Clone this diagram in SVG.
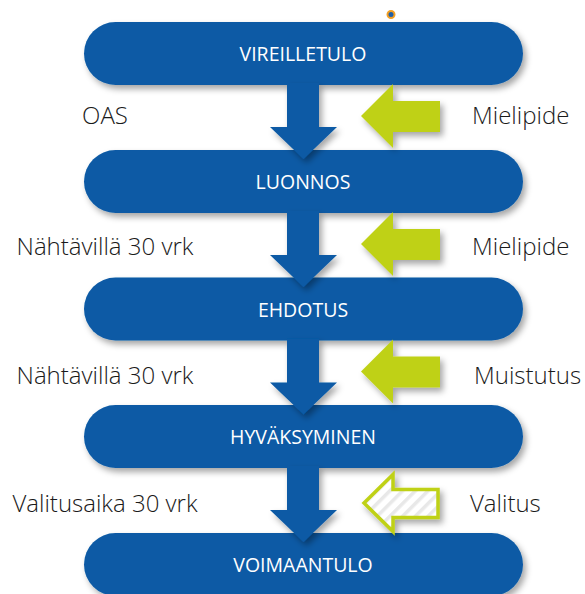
<svg xmlns="http://www.w3.org/2000/svg" width="585" height="594" viewBox="0 0 585 594">
<defs>
<filter id="sh" x="-10%" y="-20%" width="130%" height="150%">
<feDropShadow dx="3" dy="4" stdDeviation="3" flood-color="#000" flood-opacity="0.35"/>
</filter>
<pattern id="stripes" patternUnits="userSpaceOnUse" width="9" height="9" patternTransform="rotate(45)">
<rect width="9" height="9" fill="#ffffff"/>
<rect width="3.5" height="9" fill="#e8e8e8"/>
</pattern>
</defs>
<style>
.box{fill:#0A5AA5;filter:url(#sh)}
.bt{font-family:"Open Sans","Noto Sans",sans-serif;font-size:19.5px;fill:#ffffff;text-anchor:middle}
.lbl{font-family:"Open Sans","Noto Sans",sans-serif;font-size:24px;font-weight:300;fill:#1a1a1a}
.lc{text-anchor:middle}
.flow{fill:#0A5AA5;filter:url(#sh)}
.inp{fill:#BFD116;filter:url(#sh)}
.inpo{fill:url(#stripes);stroke:#BFD116;stroke-width:3.5;filter:url(#sh)}
</style>
<rect width="585" height="594" fill="#ffffff"/>

<g id="n1"><rect class="box" x="84" y="22" width="439" height="63" rx="31.5"/><text class="bt" x="303" y="61">VIREILLETULO</text></g>
<g id="n2"><rect class="box" x="84" y="150" width="439" height="63" rx="31.5"/><text class="bt" x="303" y="189">LUONNOS</text></g>
<g id="n3"><rect class="box" x="84" y="277.5" width="439" height="63" rx="31.5"/><text class="bt" x="303" y="316.5">EHDOTUS</text></g>
<g id="n4"><rect class="box" x="84" y="405" width="439" height="63" rx="31.5"/><text class="bt" x="303" y="444">HYVÄKSYMINEN</text></g>
<g id="n5"><rect class="box" x="84" y="533" width="439" height="63" rx="31.5"/><text class="bt" x="303" y="572">VOIMAANTULO</text></g>

<g id="connectors">
<path class="flow" d="M287,83 L319,83 L319,127 L337,127 L303.5,159 L270,127 L287,127 Z"/>
<path class="flow" d="M287,211 L319,211 L319,255 L337,255 L303.5,287 L270,255 L287,255 Z"/>
<path class="flow" d="M287,338.5 L319,338.5 L319,382.5 L337,382.5 L303.5,414.5 L270,382.5 L287,382.5 Z"/>
<path class="flow" d="M287,466 L319,466 L319,510 L337,510 L303.5,542 L270,510 L287,510 Z"/>
</g>

<g id="inputs">
<path class="inp" d="M361,116 L393,84 L393,101 L440,101 L440,132 L393,132 L393,148 Z"/>
<path class="inp" d="M361,244 L393,212 L393,229 L440,229 L440,260 L393,260 L393,276 Z"/>
<path class="inp" d="M361,371.5 L393,339.5 L393,356.5 L440,356.5 L440,387.5 L393,387.5 L393,403.5 Z"/>
<path class="inpo" d="M364,503 L393,474.5 L393,489.5 L438,489.5 L438,517.5 L393,517.5 L393,531.5 Z"/>
</g>

<g id="labels">
<text class="lbl lc" x="105" y="124">OAS</text>
<text class="lbl" x="472" y="124">Mielipide</text>
<text class="lbl lc" x="105" y="255">Nähtävillä 30 vrk</text>
<text class="lbl" x="472" y="255">Mielipide</text>
<text class="lbl lc" x="105" y="384">Nähtävillä 30 vrk</text>
<text class="lbl" x="474" y="384">Muistutus</text>
<text class="lbl lc" x="105" y="512">Valitusaika 30 vrk</text>
<text class="lbl" x="470" y="512">Valitus</text>
</g>

<g id="marker-dot"><circle cx="391" cy="14.5" r="3.5" fill="#1f5fa8" stroke="#F4A024" stroke-width="2"/></g>
</svg>
